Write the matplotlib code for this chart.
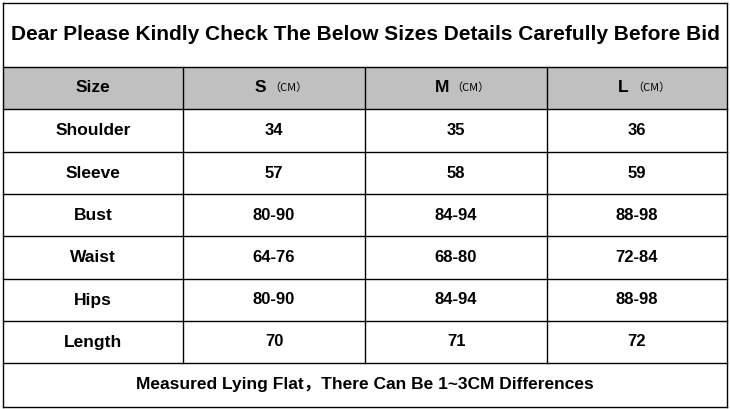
import matplotlib.pyplot as plt
from matplotlib.patches import Rectangle

plt.rcParams['font.family'] = ['Liberation Sans', 'Noto Sans CJK SC', 'DejaVu Sans']

title = "Dear Please Kindly Check The Below Sizes Details Carefully Before Bid"
header = ["Size", "S", "M", "L"]
rows = ["Shoulder", "Sleeve", "Bust", "Waist", "Hips", "Length"]
s_vals = ["34", "57", "80-90", "64-76", "80-90", "70"]
m_vals = ["35", "58", "84-94", "68-80", "84-94", "71"]
l_vals = ["36", "59", "88-98", "72-84", "88-98", "72"]
footer = "Measured Lying Flat\uff0cThere Can Be 1~3CM Differences"

# layout in pixels
col_x = [3, 183, 365, 547, 727]
row_y = [3, 67, 109, 152, 194, 236, 279, 321, 363, 407]

fig = plt.figure(figsize=(7.30, 4.09), dpi=100)
ax = fig.add_axes([0, 0, 1, 1])
ax.set_xlim(0, 730)
ax.set_ylim(409, 0)
ax.axis('off')

# header fill
ax.add_patch(Rectangle((col_x[0], row_y[1]), col_x[-1] - col_x[0], row_y[2] - row_y[1],
                       facecolor='#c0c0c0', edgecolor='none'))

lw = 1.0
for y in row_y:
    ax.plot([col_x[0], col_x[-1]], [y, y], color='black', lw=lw)
for x in [col_x[0], col_x[-1]]:
    ax.plot([x, x], [row_y[0], row_y[-1]], color='black', lw=lw)
for x in col_x[1:-1]:
    ax.plot([x, x], [row_y[1], row_y[-2]], color='black', lw=lw)

def cx(i):
    return (col_x[i] + col_x[i + 1]) / 2

def cy(j):
    return (row_y[j] + row_y[j + 1]) / 2

ax.text(365, cy(0), title, ha='center', va='center', fontsize=15, fontweight='bold')

ax.text(cx(0), cy(1), header[0], ha='center', va='center', fontsize=12.5, fontweight='bold')
for i, h in enumerate(header[1:], start=1):
    ax.text(cx(i) - 14, cy(1), h, ha='center', va='center', fontsize=12.5, fontweight='bold')
    ax.text(cx(i) + 14, cy(1), "\uff08CM\uff09", ha='center', va='center', fontsize=8,
            family=['Noto Sans CJK SC', 'DejaVu Sans'])

for j, name in enumerate(rows):
    y = cy(j + 2)
    ax.text(cx(0), y, name, ha='center', va='center', fontsize=12.5, fontweight='bold')
    for i, v in enumerate([s_vals[j], m_vals[j], l_vals[j]], start=1):
        ax.text(cx(i), y, v, ha='center', va='center', fontsize=12, fontweight='bold')

ax.text(365, cy(8), footer, ha='center', va='center', fontsize=12.5, fontweight='bold')

fig.savefig('out.png', dpi=100)
